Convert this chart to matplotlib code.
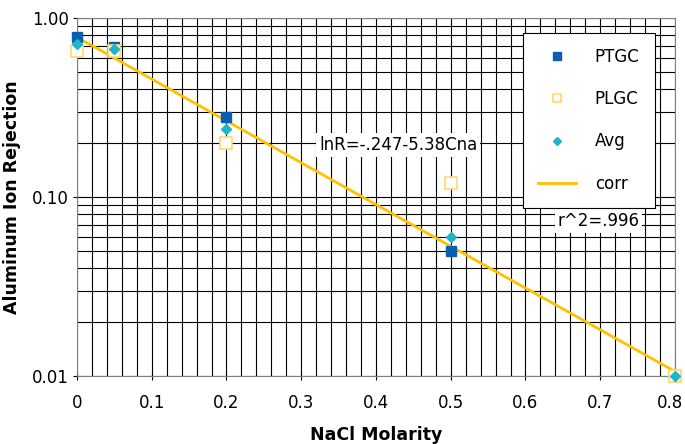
import numpy as np
import matplotlib.pyplot as plt
import matplotlib.transforms as mtransforms
from matplotlib.ticker import FixedLocator, LogLocator, NullFormatter

# data
molarity = [0.0, 0.05, 0.2, 0.5, 0.8]
ptgc = [0.78, 0.69, 0.28, 0.050, 0.010]
plgc = [0.65, 0.65, 0.20, 0.120, 0.010]
avg = [0.72, 0.67, 0.24, 0.060, 0.010]
corr = [0.781, 0.597, 0.266, 0.053, 0.0106]

x_ticks = [0, 0.1, 0.2, 0.3, 0.4, 0.5, 0.6, 0.7, 0.8]
x_tick_labels = ["0", "0.1", "0.2", "0.3", "0.4", "0.5", "0.6", "0.7", "0.8"]
y_ticks = [0.01, 0.1, 1.0]
y_tick_labels = ["0.01", "0.10", "1.00"]

plt.rcParams['font.family'] = ['DejaVu Sans']

fig = plt.figure(figsize=(6.85, 4.44), dpi=100)
ax = fig.add_axes([0.1124, 0.1532, 0.873, 0.8063])

ax.set_yscale('log')
ax.set_xlim(0, 0.8)
ax.set_ylim(0.01, 1.0)

# grid
ax.xaxis.set_major_locator(FixedLocator(x_ticks))
ax.xaxis.set_minor_locator(FixedLocator(np.arange(0, 0.81, 0.02)))
ax.yaxis.set_major_locator(FixedLocator(y_ticks))
ax.yaxis.set_minor_locator(LogLocator(base=10, subs=np.arange(2, 10)))
ax.yaxis.set_minor_formatter(NullFormatter())
ax.set_xticklabels(x_tick_labels)
ax.set_yticklabels(y_tick_labels)
ax.grid(True, which='both', color='black', linewidth=0.8)
ax.set_axisbelow(True)
for s in ax.spines.values():
    s.set_color('#808080')
    s.set_linewidth(0.8)

ax.tick_params(which='major', direction='inout', length=6, labelsize=12, color='black')
ax.tick_params(axis='x', pad=10)
ax.tick_params(axis='y', pad=3)
ax.tick_params(which='minor', length=0)

# nudge the last x label so it stays inside the figure
last = ax.get_xticklabels()[-1]
last.set_transform(last.get_transform() +
                   mtransforms.ScaledTranslation(-5 / 100, 0, fig.dpi_scale_trans))

ax.plot(molarity, corr, color='#FFC000', linewidth=2, label='corr', zorder=3, clip_on=False)
ax.plot(molarity, ptgc, linestyle='none', marker='s', markersize=7,
        markerfacecolor='#0A5FB0', markeredgecolor='#0A5FB0', label='PTGC',
        zorder=4, clip_on=False)
ax.plot(molarity, plgc, linestyle='none', marker='s', markersize=8,
        markerfacecolor='white', markeredgecolor='#FFD966', markeredgewidth=1.2,
        label='PLGC', zorder=4, clip_on=False)
ax.plot(molarity, avg, linestyle='none', marker='D', markersize=5,
        markerfacecolor='#1FB5C8', markeredgecolor='#1FB5C8', label='Avg',
        zorder=5, clip_on=False)

ax.set_xlabel('NaCl Molarity', fontsize=12.5, fontweight='bold', labelpad=10)
ax.set_ylabel('Aluminum Ion Rejection', fontsize=12.5, fontweight='bold', labelpad=8)

handles, labels = ax.get_legend_handles_labels()
order = [1, 2, 3, 0]
leg = ax.legend([handles[i] for i in order], [labels[i] for i in order],
                loc='upper left', bbox_to_anchor=(0.746, 0.958), borderaxespad=0,
                fontsize=12, labelspacing=1.45, borderpad=0.9,
                handletextpad=1.1, handlelength=2.3, fancybox=False,
                framealpha=1, edgecolor='black', markerscale=0.8)
leg.get_frame().set_linewidth(0.8)
leg.set_zorder(7)

ax.text(0.537, 0.645, 'lnR=-.247-5.38Cna', fontsize=12, ha='center', va='center',
        transform=ax.transAxes,
        bbox=dict(facecolor='white', edgecolor='none', pad=2), zorder=6)
ax.text(0.872, 0.433, 'r^2=.996', fontsize=12, ha='center', va='center',
        transform=ax.transAxes,
        bbox=dict(facecolor='white', edgecolor='none', pad=2), zorder=6)

fig.savefig('out.png', dpi=100)
